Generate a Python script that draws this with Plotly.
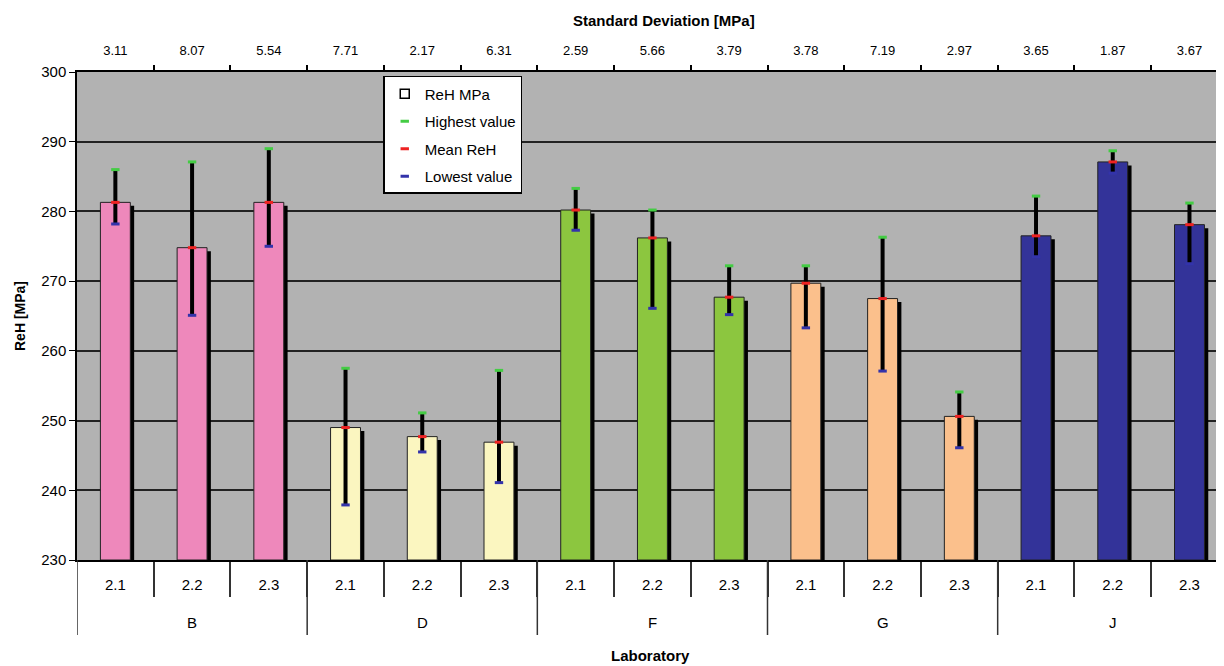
import plotly.graph_objects as go

# --- data -------------------------------------------------------------------
labs = ["B"] * 3 + ["D"] * 3 + ["F"] * 3 + ["G"] * 3 + ["J"] * 3
samples = ["2.1", "2.2", "2.3"] * 5
mean_reh = [281.3, 274.8, 281.3, 249.0, 247.7, 246.9, 280.2, 276.2, 267.7,
            269.7, 267.5, 250.6, 276.5, 287.1, 278.1]
highest = [286.0, 287.1, 289.0, 257.5, 251.1, 257.2, 283.3, 280.2, 272.2,
           272.2, 276.3, 254.1, 282.2, 288.7, 281.2]
lowest = [278.2, 265.1, 275.0, 237.9, 245.5, 241.1, 277.3, 266.1, 265.2,
          263.3, 257.1, 246.1, 273.5, 285.5, 272.5]
std_dev = ["3.11", "8.07", "5.54", "7.71", "2.17", "6.31", "2.59", "5.66",
           "3.79", "3.78", "7.19", "2.97", "3.65", "1.87", "3.67"]

lab_colours = {"B": "#EE88BB", "D": "#FBF6C0", "F": "#8CC63F",
               "G": "#FBC08C", "J": "#333399"}
bar_colours = [lab_colours[l] for l in labs]

FONT = "Liberation Sans, Arial, sans-serif"
idx = list(range(len(labs)))
groups = list(dict.fromkeys(labs))

# the page body adds an 8 px margin, so the figure is 8 px smaller
W, H = 1216, 658
PLOT_TOP, PLOT_BOTTOM = 64, 552
PLOT_H = PLOT_BOTTOM - PLOT_TOP

fig = go.Figure()

# --- bar shadow (black, shifted right/down) ---------------------------------
fig.add_trace(
    go.Bar(
        x=idx,
        y=[m - 0.5 - 230 for m in mean_reh],
        base=230,
        width=0.39,
        offset=-0.195 + 0.05,
        marker=dict(color="black", line=dict(width=0)),
        showlegend=False,
        hoverinfo="skip",
    )
)

# --- bars -------------------------------------------------------------------
fig.add_trace(
    go.Bar(
        x=idx,
        y=[m - 230 for m in mean_reh],
        base=230,
        width=0.39,
        offset=-0.195,
        marker=dict(color=bar_colours, line=dict(color="#222222", width=1)),
        showlegend=False,
        name="ReH MPa",
    )
)

# --- range line (lowest -> highest) -----------------------------------------
fig.add_trace(
    go.Scatter(
        x=idx,
        y=mean_reh,
        mode="markers",
        marker=dict(size=1, color="rgba(0,0,0,0)"),
        error_y=dict(
            type="data",
            symmetric=False,
            array=[h - m for h, m in zip(highest, mean_reh)],
            arrayminus=[m - l for m, l in zip(mean_reh, lowest)],
            color="black",
            thickness=4,
            width=0,
        ),
        showlegend=False,
        hoverinfo="skip",
    )
)

# legend-only entry for the bars
fig.add_trace(
    go.Scatter(
        x=[None], y=[None], mode="markers", name="ReH MPa", legendgroup="a",
        marker=dict(symbol="square-open", size=9, color="black",
                    line=dict(width=1.5, color="black")),
    )
)

for vals, name, colour, grp in [
    (highest, "Highest value", "#44CC44", "b"),
    (mean_reh, "Mean ReH", "#EE2222", "c"),
    (lowest, "Lowest value", "#3333AA", "d"),
]:
    fig.add_trace(
        go.Scatter(
            x=idx,
            y=vals,
            mode="markers",
            name=name,
            legendgroup=grp,
            marker=dict(symbol="line-ew", size=6,
                        line=dict(color=colour, width=3)),
        )
    )

# top axis carrying the standard deviations
fig.add_trace(
    go.Scatter(x=idx, y=mean_reh, xaxis="x2", mode="markers",
               marker=dict(opacity=0), showlegend=False, hoverinfo="skip")
)

# --- group labels and dividers under the category axis ----------------------
for g in groups:
    pos = [i for i, l in enumerate(labs) if l == g]
    fig.add_annotation(
        x=sum(pos) / len(pos), xref="x", y=0, yref="paper", yanchor="middle",
        yshift=-62, text=g, showarrow=False, font=dict(size=15),
    )
    left = pos[0] - 0.5
    fig.add_shape(
        type="line", xref="x", yref="paper",
        x0=left, x1=left, y0=0, y1=-75 / PLOT_H,
        line=dict(color="#333333", width=1.5),
    )

fig.add_annotation(
    x=0.5, xref="paper", y=0, yref="paper", yanchor="middle", yshift=-95,
    text="<b>Laboratory</b>", showarrow=False, font=dict(size=15),
)
fig.add_annotation(
    x=0.512, xref="paper", y=1, yref="paper", yanchor="middle", yshift=52,
    text="<b>Standard Deviation [MPa]</b>", showarrow=False,
    font=dict(size=15),
)

# --- layout -----------------------------------------------------------------
xrange = [-0.5, 14.45]
boundaries = [i + 0.5 for i in idx]
fig.update_layout(
    width=W,
    height=H,
    barmode="overlay",
    plot_bgcolor="#B2B2B2",
    paper_bgcolor="white",
    font=dict(family=FONT, size=14, color="black"),
    margin=dict(l=69, r=0, t=PLOT_TOP, b=H - PLOT_BOTTOM),
    xaxis=dict(
        range=xrange,
        automargin=False,
        tickmode="array",
        tickvals=idx,
        ticktext=samples,
        ticks="",
        ticklabelstandoff=10,
        showline=True,
        linecolor="black",
        linewidth=1.5,
        showgrid=False,
        zeroline=False,
        tickfont=dict(size=15),
        minor=dict(tickmode="array", tickvals=boundaries, ticks="outside",
                   ticklen=35, tickcolor="#333333", tickwidth=1.5,
                   showgrid=False),
    ),
    xaxis2=dict(
        overlaying="x",
        side="top",
        range=xrange,
        automargin=False,
        tickmode="array",
        tickvals=idx,
        ticktext=std_dev,
        ticks="",
        ticklabelstandoff=10,
        showgrid=False,
        zeroline=False,
        showline=True,
        linecolor="black",
        linewidth=1.5,
        tickfont=dict(size=13),
        minor=dict(tickmode="array", tickvals=boundaries, ticks="outside",
                   ticklen=5, tickcolor="black", tickwidth=1.5,
                   showgrid=False),
    ),
    yaxis=dict(
        range=[230, 300],
        dtick=10,
        automargin=False,
        showgrid=True,
        gridcolor="#222222",
        gridwidth=1.5,
        zeroline=False,
        showline=True,
        linecolor="black",
        linewidth=1.5,
        ticks="outside",
        ticklen=6,
        tickcolor="black",
        tickfont=dict(size=15),
        title=dict(text="<b>ReH [MPa]</b>", font=dict(size=14), standoff=12),
    ),
    legend=dict(
        x=0.267,
        y=0.992,
        xanchor="left",
        yanchor="top",
        bgcolor="white",
        bordercolor="black",
        borderwidth=1.5,
        font=dict(size=15),
        tracegroupgap=5,
        itemwidth=30,
    ),
)

fig.write_html("out.html")
